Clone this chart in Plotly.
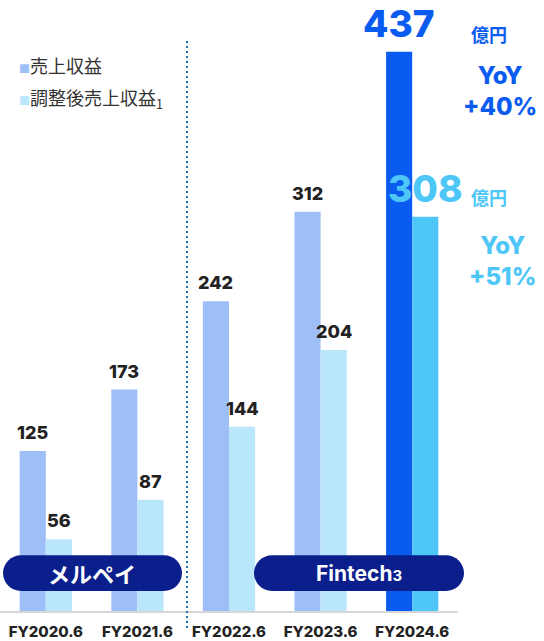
import plotly.graph_objects as go

# ---- data ----
categories = ["FY2020.6", "FY2021.6", "FY2022.6", "FY2023.6", "FY2024.6"]
revenue = [125, 173, 242, 312, 437]
adjusted_revenue = [56, 87, 144, 204, 308]
series_names = ["売上収益", "調整後売上収益"]
unit_label = "億円"
yoy_revenue = "+40%"
yoy_adjusted = "+51%"
segment_labels = ["メルペイ", "Fintech"]

# ---- styling ----
W, H = 544, 641
ML, MR, MT, MB = 0, 86, 0, 28
PW, PH = W - ML - MR, H - MT - MB
YMAX = 477.4

C1 = "#9dbef7"
C2 = "#b9e6fb"
C1_HI = "#0a5cf0"
C2_HI = "#4ec6f8"
NAVY = "#0a1f8c"
DARK = "#222222"
FONT = "Inter, Noto Sans CJK JP, sans-serif"
CJK = "Noto Sans CJK JP, Inter, sans-serif"

n = len(categories)
xs = list(range(n))
half = 0.1425

def px(xpix):
    return (xpix - ML) / PW

def py(ypix):
    return (H - MB - ypix) / PH

fig = go.Figure()
fig.add_trace(go.Bar(x=xs, y=revenue, name=series_names[0],
                     marker=dict(color=[C1] * (n - 1) + [C1_HI], line=dict(width=0)),
                     hoverinfo="skip"))
fig.add_trace(go.Bar(x=xs, y=adjusted_revenue, name=series_names[1],
                     marker=dict(color=[C2] * (n - 1) + [C2_HI], line=dict(width=0)),
                     hoverinfo="skip"))

annotations = []
# value labels
for i in range(n):
    for vals, off, hi_col in ((revenue, -half, C1_HI), (adjusted_revenue, half, C2_HI)):
        if i == n - 1:
            annotations.append(dict(x=xs[i] + off, y=vals[i], xref="x", yref="y",
                                    text=str(vals[i]), showarrow=False, xanchor="center",
                                    yanchor="bottom", yshift=4,
                                    font=dict(family=FONT, size=37, color=hi_col, weight=800)))
        else:
            annotations.append(dict(x=xs[i] + off, y=vals[i], xref="x", yref="y",
                                    text=str(vals[i]), showarrow=False, xanchor="center",
                                    yanchor="bottom", yshift=6,
                                    font=dict(family=FONT, size=18, color=DARK, weight=800)))

# unit + YoY labels
annotations.append(dict(x=px(489), y=py(34), xref="paper", yref="paper", text=unit_label,
                        showarrow=False, xanchor="center", yanchor="middle",
                        font=dict(family=CJK, size=18, color=C1_HI, weight=700)))
annotations.append(dict(x=px(489), y=py(198), xref="paper", yref="paper", text=unit_label,
                        showarrow=False, xanchor="center", yanchor="middle",
                        font=dict(family=CJK, size=18, color=C2_HI, weight=700)))
annotations.append(dict(x=px(500), y=py(91), xref="paper", yref="paper",
                        text="YoY<br>" + yoy_revenue, showarrow=False, align="center",
                        xanchor="center", yanchor="middle",
                        font=dict(family=FONT, size=24, color=C1_HI, weight=800)))
annotations.append(dict(x=px(502), y=py(262), xref="paper", yref="paper",
                        text="YoY<br>" + yoy_adjusted, showarrow=False, align="center",
                        xanchor="center", yanchor="middle",
                        font=dict(family=FONT, size=24, color=C2_HI, weight=800)))

# legend (custom)
annotations.append(dict(x=px(17), y=py(65), xref="paper", yref="paper",
                        text=f"<span style='color:{C1};font-size:11px'>■</span>" + series_names[0],
                        showarrow=False, xanchor="left", yanchor="middle",
                        font=dict(family=CJK, size=18, color="#333333")))
annotations.append(dict(x=px(17), y=py(99), xref="paper", yref="paper",
                        text=f"<span style='color:{C2};font-size:11px'>■</span>" + series_names[1] + "<sub>1</sub>",
                        showarrow=False, xanchor="left", yanchor="middle",
                        font=dict(family=CJK, size=18, color="#333333")))

# segment pills text
annotations.append(dict(x=px(92), y=py(575), xref="paper", yref="paper",
                        text=segment_labels[0], showarrow=False, xanchor="center", yanchor="middle",
                        font=dict(family=CJK, size=22, color="white", weight=700)))
annotations.append(dict(x=px(359), y=py(575), xref="paper", yref="paper",
                        text=segment_labels[1] + "<span style='font-size:15px'>3</span>", showarrow=False,
                        xanchor="center", yanchor="middle",
                        font=dict(family=FONT, size=21, color="white", weight=700)))


def pill(x0, y0, x1, y1, r):
    k = 0.5523 * r
    def P(x, y):
        return f"{px(x):.5f},{py(y):.5f}"
    d = (f"M {P(x0 + r, y0)} L {P(x1 - r, y0)} "
         f"C {P(x1 - r + k, y0)} {P(x1, y0 + r - k)} {P(x1, y0 + r)} "
         f"L {P(x1, y1 - r)} "
         f"C {P(x1, y1 - r + k)} {P(x1 - r + k, y1)} {P(x1 - r, y1)} "
         f"L {P(x0 + r, y1)} "
         f"C {P(x0 + r - k, y1)} {P(x0, y1 - r + k)} {P(x0, y1 - r)} "
         f"L {P(x0, y0 + r)} "
         f"C {P(x0, y0 + r - k)} {P(x0 + r - k, y0)} {P(x0 + r, y0)} Z")
    return dict(type="path", path=d, xref="paper", yref="paper",
                fillcolor=NAVY, line=dict(width=0), layer="above")

shapes = [
    dict(type="line", xref="paper", yref="paper", x0=px(187), x1=px(187),
         y0=py(630), y1=py(38), line=dict(color="#1f6db3", width=2, dash="2px,3px")),
    pill(3, 557, 182, 593, 18),
    pill(254, 557, 464, 593, 18),
]

fig.update_layout(
    width=W, height=H,
    margin=dict(l=ML, r=MR, t=MT, b=MB, pad=0),
    paper_bgcolor="white", plot_bgcolor="white",
    barmode="group", bargap=0.43, bargroupgap=0,
    showlegend=False,
    annotations=annotations, shapes=shapes,
    xaxis=dict(range=[-0.5, n - 0.5], tickmode="array", tickvals=xs, ticktext=categories,
               showgrid=False, zeroline=False, showline=True, linecolor="#d6d6d6", linewidth=1.5,
               ticks="", ticklabelstandoff=6,
               tickfont=dict(family=FONT, size=15, color=DARK, weight=800), fixedrange=True),
    yaxis=dict(range=[0, YMAX], visible=False, fixedrange=True),
)

fig.write_html("out.html", config={"displayModeBar": False},
               post_script="document.body.style.margin='0';document.body.style.overflow='hidden';")
